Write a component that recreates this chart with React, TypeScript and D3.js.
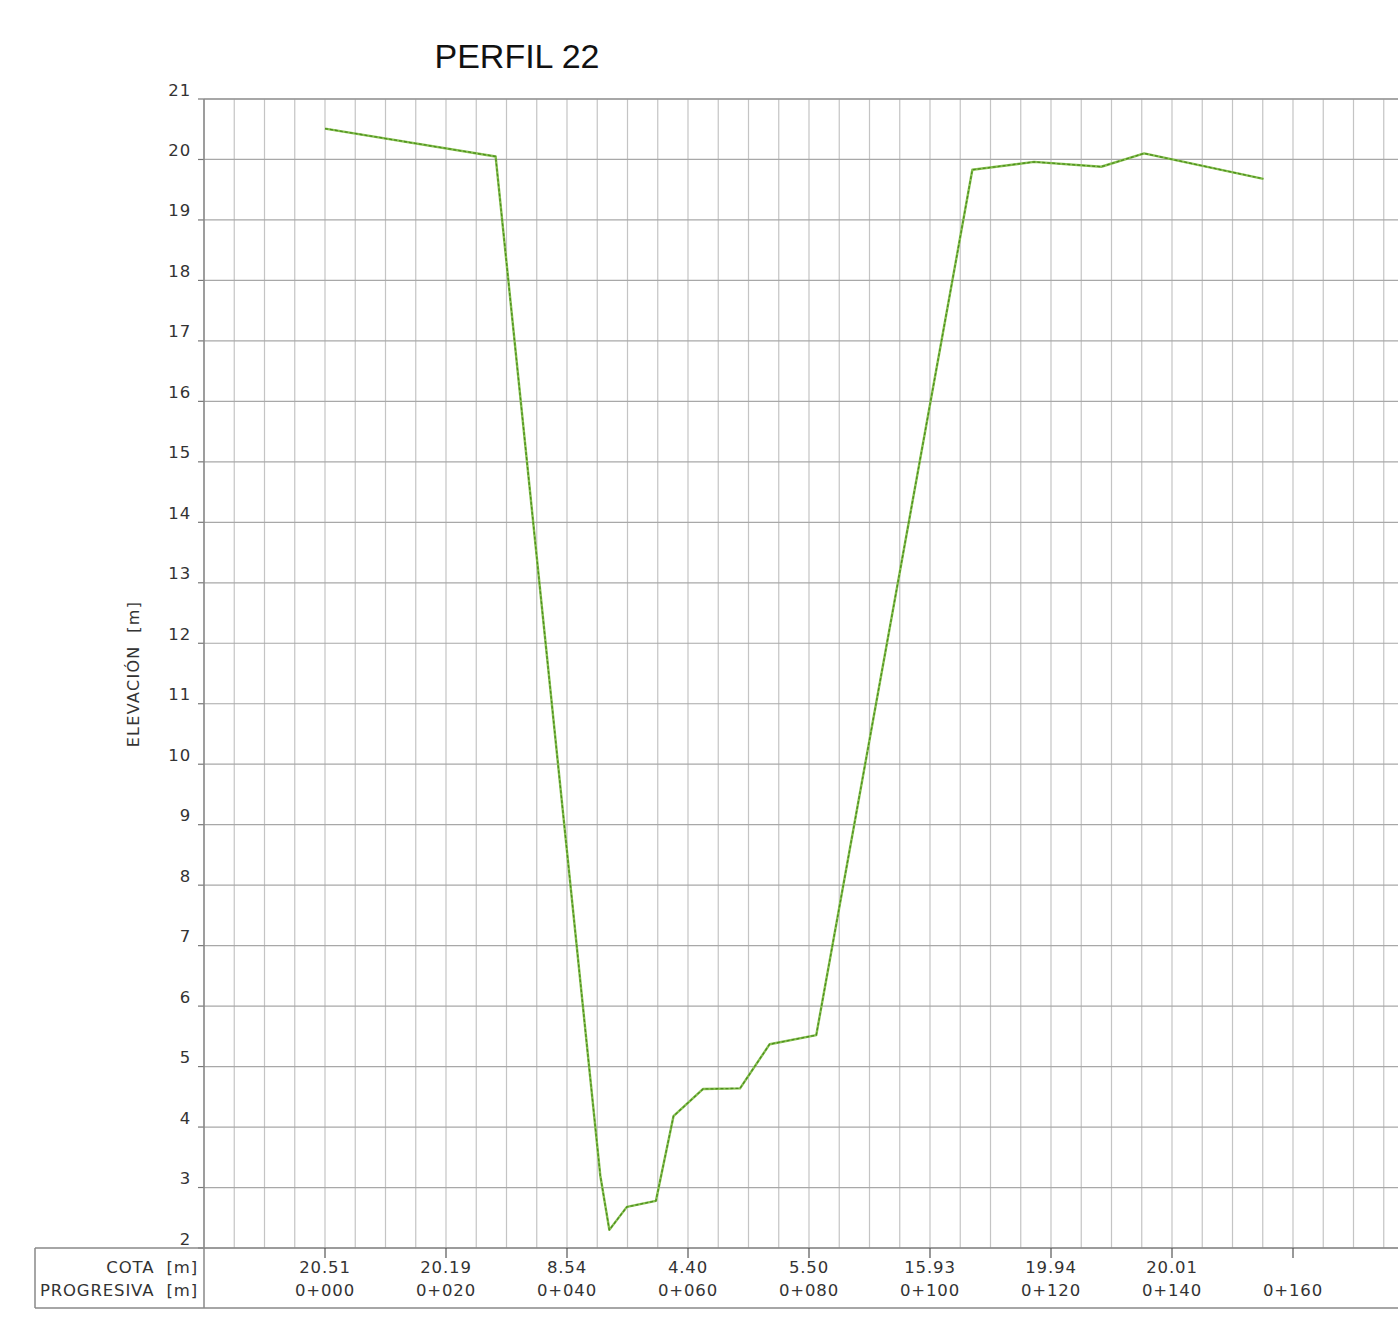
import React from "react";
import * as d3 from "d3";

const stations = [0, 28.2, 45.5, 47.0, 49.9, 54.7, 57.6, 62.5, 68.6, 73.5, 81.2, 107.0, 117.2, 128.3, 135.4, 155.1];
const elevations = [20.51, 20.05, 3.2, 2.3, 2.68, 2.78, 4.18, 4.63, 4.64, 5.37, 5.52, 19.83, 19.96, 19.88, 20.1, 19.68];
const labelStations = [0, 20, 40, 60, 80, 100, 120, 140, 160];
const cotaLabels = ["20.51", "20.19", "8.54", "4.40", "5.50", "15.93", "19.94", "20.01", ""];
const progLabels = ["0+000", "0+020", "0+040", "0+060", "0+080", "0+100", "0+120", "0+140", "0+160"];
const yTicks = d3.range(2, 22, 1);

export default function App() {
  const left = 204, top = 99, bottom = 1248, right = 1398;
  const x = d3.scaleLinear().domain([0, 20]).range([325, 446]);
  const y = d3.scaleLinear().domain([2, 21]).range([bottom, top]);
  const xMin = x.invert(left);
  const xMax = x.invert(right + 40);
  const vGrid = d3.range(Math.ceil(xMin / 5) * 5, xMax, 5);
  const pts: [number, number][] = stations.map((s, i) => [s, elevations[i]]);
  const line = d3.line<[number, number]>().x(d => x(d[0])).y(d => y(d[1]));
  const path = line(pts) || "";
  const font = "'DejaVu Sans', sans-serif";
  const tableBottom = 1308;
  const ls = 0.85;
  return (
    <svg width={1398} height={1327} style={{ position: "absolute", left: 0, top: 0, background: "#fff" }}>
      <rect x={0} y={0} width={1398} height={1327} fill="#fff" />
      {vGrid.map(v => (
        <line key={"v" + v} x1={x(v)} x2={x(v)} y1={top} y2={bottom} stroke="#c4c4c4" strokeWidth={1.2} />
      ))}
      {yTicks.map(t => (
        <line key={"h" + t} x1={left} x2={right} y1={y(t)} y2={y(t)} stroke="#a8a8a8" strokeWidth={1.2} />
      ))}
      {yTicks.map(t => (
        <line key={"yt" + t} x1={left - 6} x2={left} y1={y(t)} y2={y(t)} stroke="#777" strokeWidth={1.2} />
      ))}
      {yTicks.map(t => (
        <text key={"yl" + t} x={191} y={y(t) - 8} textAnchor="end" dominantBaseline="middle" fontFamily={font} fontSize={16.5} letterSpacing={ls} fill="#333">{t}</text>
      ))}
      <line x1={left} x2={right} y1={top} y2={top} stroke="#999" strokeWidth={1.5} />
      <line x1={left} x2={left} y1={top} y2={tableBottom} stroke="#888" strokeWidth={1.5} />
      <line x1={35} x2={right} y1={bottom} y2={bottom} stroke="#888" strokeWidth={1.5} />
      <line x1={35} x2={right} y1={tableBottom} y2={tableBottom} stroke="#888" strokeWidth={1.5} />
      <line x1={35} x2={35} y1={bottom} y2={tableBottom} stroke="#888" strokeWidth={1.5} />
      {labelStations.map(s => (
        <line key={"xt" + s} x1={x(s)} x2={x(s)} y1={bottom} y2={bottom + 10} stroke="#555" strokeWidth={1.2} />
      ))}
      {labelStations.map((s, i) => (
        <text key={"c" + s} x={x(s)} y={1268} textAnchor="middle" dominantBaseline="middle" fontFamily={font} fontSize={16.5} letterSpacing={ls} fill="#333">{cotaLabels[i]}</text>
      ))}
      {labelStations.map((s, i) => (
        <text key={"p" + s} x={x(s)} y={1291} textAnchor="middle" dominantBaseline="middle" fontFamily={font} fontSize={16.5} letterSpacing={ls} fill="#333">{progLabels[i]}</text>
      ))}
      <text x={198} y={1268} textAnchor="end" dominantBaseline="middle" fontFamily={font} fontSize={16.5} letterSpacing={ls} fill="#333" xmlSpace="preserve">COTA  [m]</text>
      <text x={198} y={1291} textAnchor="end" dominantBaseline="middle" fontFamily={font} fontSize={16.5} letterSpacing={ls} fill="#333" xmlSpace="preserve">PROGRESIVA  [m]</text>
      <text transform="translate(134,674) rotate(-90)" textAnchor="middle" dominantBaseline="middle" fontFamily={font} fontSize={16} letterSpacing={1.3} fill="#333" xmlSpace="preserve">ELEVACIÓN  [m]</text>
      <text x={517} y={59} textAnchor="middle" dominantBaseline="middle" fontFamily="'Liberation Sans', Arial, sans-serif" fontSize={34} fill="#111">PERFIL 22</text>
      <path d={path} fill="none" stroke="#86c050" strokeWidth={2.4} strokeLinejoin="round" />
      <path d={path} fill="none" stroke="#4e8e1e" strokeWidth={1.3} strokeDasharray="3,2" strokeLinejoin="round" />
    </svg>
  );
}
